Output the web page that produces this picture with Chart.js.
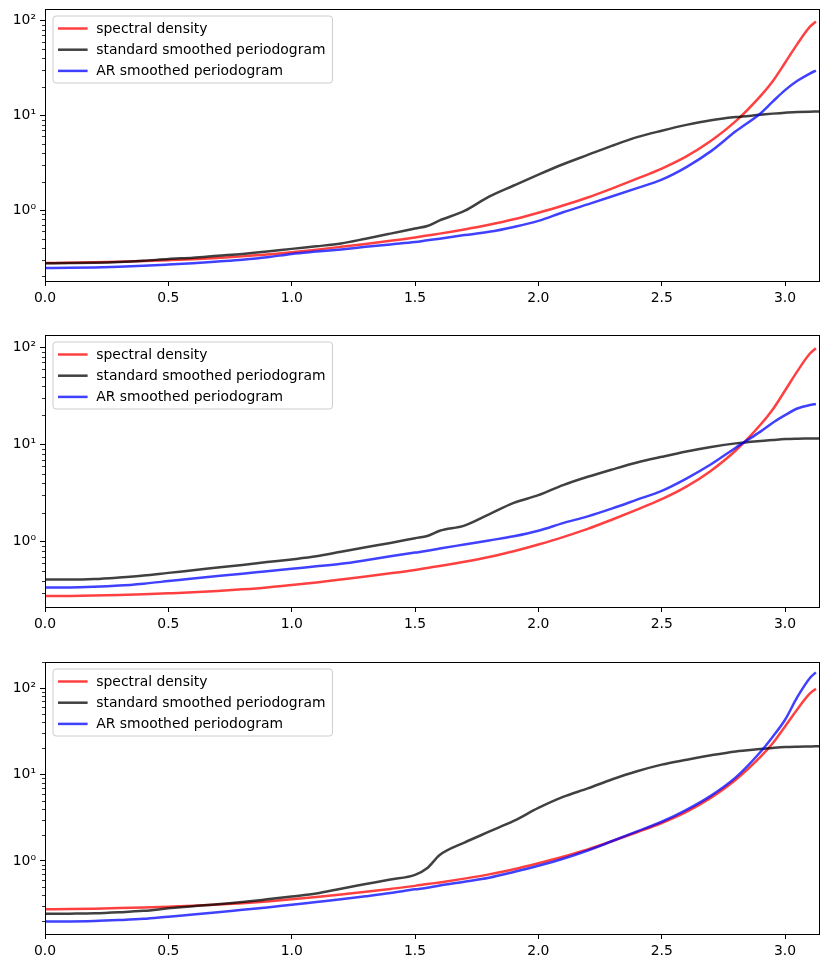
<!DOCTYPE html>
<html><head><meta charset="utf-8">
<script src="https://cdn.jsdelivr.net/npm/chart.js@4"></script>
<style>
html,body{margin:0;padding:0;background:#fff;}
body{width:830px;height:967px;position:relative;overflow:hidden;}
canvas{position:absolute;left:0;}
</style></head><body>
<canvas id="c1" width="830" height="311" style="top:0px;width:830px;height:311px"></canvas>
<canvas id="c2" width="830" height="311" style="top:326px;width:830px;height:311px"></canvas>
<canvas id="c3" width="830" height="311" style="top:653px;width:830px;height:311px"></canvas>
<script>
// ---- data ----
const freq = [0,0.1,0.2,0.3,0.4,0.5,0.6,0.7,0.8,0.9,1.0,1.1,1.2,1.3,1.4,1.5,1.55,1.6,1.7,1.8,1.9,2.0,2.1,2.2,2.3,2.4,2.5,2.6,2.7,2.8,2.9,2.95,3.0,3.05,3.1,3.125,3.1416];

const spectral = [0.277,0.278,0.281,0.285,0.29,0.296,0.303,0.313,0.325,0.34,0.36,0.383,0.41,0.44,0.475,0.515,0.54,0.565,0.625,0.70,0.80,0.94,1.12,1.36,1.7,2.15,2.75,3.7,5.4,8.7,16,23,36,57,86,98,null];

const standard1 = [0.275,0.276,0.278,0.283,0.292,0.305,0.315,0.33,0.345,0.365,0.39,0.415,0.445,0.50,0.565,0.64,0.68,0.78,0.98,1.39,1.82,2.37,3.05,3.83,4.8,5.9,6.9,7.95,8.9,9.6,10.15,10.45,10.7,10.85,10.95,10.98,11.0];
const ar1 = [0.245,0.246,0.248,0.252,0.258,0.266,0.275,0.287,0.30,0.318,0.345,0.365,0.385,0.41,0.435,0.46,0.48,0.50,0.545,0.59,0.665,0.77,0.95,1.15,1.4,1.71,2.1,2.85,4.2,6.8,10.5,14,18.5,23.2,27.7,29.8,null];

const standard2 = [0.41,0.41,0.415,0.43,0.45,0.48,0.51,0.545,0.58,0.62,0.66,0.71,0.79,0.88,0.975,1.09,1.15,1.3,1.47,1.92,2.52,3.02,3.84,4.67,5.56,6.55,7.49,8.5,9.46,10.3,10.9,11.15,11.4,11.5,11.55,11.58,11.6];
const ar2 = [0.34,0.34,0.345,0.355,0.372,0.395,0.42,0.445,0.47,0.50,0.53,0.56,0.595,0.647,0.71,0.776,0.81,0.853,0.94,1.035,1.14,1.3,1.56,1.83,2.21,2.72,3.35,4.48,6.28,9.3,13.6,16.8,20.1,23.5,25.5,26.2,null];

const standard3 = [0.245,0.246,0.248,0.255,0.265,0.283,0.30,0.315,0.335,0.36,0.388,0.42,0.478,0.54,0.61,0.69,0.83,1.17,1.63,2.18,2.9,4.1,5.5,6.9,8.8,10.9,13,14.8,16.7,18.5,19.7,20.3,20.8,21.0,21.1,21.15,21.2];
const ar3 = [0.20,0.20,0.202,0.207,0.214,0.227,0.24,0.255,0.272,0.29,0.312,0.335,0.36,0.39,0.425,0.47,0.49,0.52,0.575,0.64,0.745,0.88,1.06,1.32,1.7,2.2,2.84,3.9,5.7,9.25,18.2,27.4,43,79,130,152,null];

const seriesLabels = ['spectral density','standard smoothed periodogram','AR smoothed periodogram'];
const xTicks = [0,0.5,1.0,1.5,2.0,2.5,3.0];
const yTicks = [1,10,100];
const yTickLabels = ['10\u2070','10\u00b9','10\u00b2'];
const yLimits = [[0.1786,133],[0.214,134],[0.143,200]];

// ---- styles ----
const colors = ['rgba(255,0,0,0.75)','rgba(0,0,0,0.75)','rgba(0,0,255,0.75)'];
const FONT = 'DejaVu Sans';
const FS = 13.9;
Chart.defaults.font.family = FONT;
Chart.defaults.font.size = FS;
Chart.defaults.color = '#000';

const framePlugin = {
  id: 'frame',
  afterDraw(chart) {
    const ctx = chart.ctx, a = chart.chartArea, y = chart.scales.y;
    ctx.save();
    // minor log ticks
    ctx.strokeStyle = '#000';
    ctx.lineWidth = 0.8;
    ctx.beginPath();
    for (const d of [0.01, 0.1, 1, 10, 100]) {
      for (let m = 2; m <= 9; m++) {
        const v = m * d;
        if (v < y.min || v > y.max) continue;
        const py = Math.round(y.getPixelForValue(v)) + 0.5;
        ctx.moveTo(a.left - 3, py);
        ctx.lineTo(a.left, py);
      }
    }
    ctx.stroke();
    // frame
    ctx.lineWidth = 1;
    ctx.strokeRect(Math.round(a.left) + 0.5, Math.round(a.top) + 0.5,
                   Math.round(a.right - a.left) - 1, Math.round(a.bottom - a.top));
    // legend
    ctx.font = FS + 'px "' + FONT + '"';
    const tw = Math.max(...seriesLabels.map(t => ctx.measureText(t).width));
    const lx = a.left + 8, ly = a.top + 7;
    const w = 43.3 + tw + 7, h = 67;
    ctx.beginPath();
    const r = 3;
    ctx.moveTo(lx + r, ly);
    ctx.lineTo(lx + w - r, ly); ctx.arcTo(lx + w, ly, lx + w, ly + r, r);
    ctx.lineTo(lx + w, ly + h - r); ctx.arcTo(lx + w, ly + h, lx + w - r, ly + h, r);
    ctx.lineTo(lx + r, ly + h); ctx.arcTo(lx, ly + h, lx, ly + h - r, r);
    ctx.lineTo(lx, ly + r); ctx.arcTo(lx, ly, lx + r, ly, r);
    ctx.closePath();
    ctx.fillStyle = 'rgba(255,255,255,0.8)';
    ctx.fill();
    ctx.strokeStyle = '#cccccc';
    ctx.lineWidth = 1;
    ctx.stroke();
    ctx.textBaseline = 'middle';
    ctx.textAlign = 'left';
    seriesLabels.forEach((t, i) => {
      const yy = ly + 12.5 + i * 21.2;
      ctx.strokeStyle = colors[i];
      ctx.lineWidth = 2.5;
      ctx.beginPath();
      ctx.moveTo(lx + 5, yy); ctx.lineTo(lx + 34.6, yy);
      ctx.stroke();
      ctx.fillStyle = '#000';
      ctx.fillText(t, lx + 43.3, yy + 0.5);
    });
    ctx.restore();
  }
};

function makeChart(id, series, lim) {
  const datasets = series.map((vals, i) => ({
    label: seriesLabels[i],
    data: freq.map((f, k) => ({x: f, y: vals[k]})),
    borderColor: colors[i],
    backgroundColor: colors[i],
    borderWidth: 2.5,
    pointRadius: 0,
    fill: false,
    spanGaps: false,
    cubicInterpolationMode: 'monotone',
    order: 3 - i
  }));
  new Chart(document.getElementById(id), {
    type: 'line',
    data: {datasets},
    plugins: [framePlugin],
    options: {
      responsive: false,
      animation: false,
      devicePixelRatio: 1,
      layout: {padding: {top: 9, right: 10, left: 0, bottom: 0}},
      plugins: {legend: {display: false}, tooltip: {enabled: false}},
      scales: {
        x: {
          type: 'linear', min: 0, max: Math.PI,
          afterBuildTicks: s => { s.ticks = xTicks.map(v => ({value: v})); },
          afterFit: s => { s.height = 30; s.paddingLeft = 0; s.paddingRight = 0; },
          ticks: {callback: v => Number(v).toFixed(1), color: '#000', padding: 4,
                  maxRotation: 0, autoSkip: false, font: {size: FS, family: FONT}},
          grid: {display: true, drawOnChartArea: false, drawTicks: true, tickLength: 5,
                 color: '#000', lineWidth: 1},
          border: {display: false}
        },
        y: {
          type: 'logarithmic', min: lim[0], max: lim[1],
          afterBuildTicks: s => { s.ticks = yTicks.map(v => ({value: v})); },
          afterFit: s => { s.width = 45; s.paddingTop = 0; s.paddingBottom = 0; },
          ticks: {callback: v => { const k = yTicks.indexOf(Number(v)); return k >= 0 ? yTickLabels[k] : ''; },
                  color: '#000', padding: 4, autoSkip: false, font: {size: FS, family: FONT}},
          grid: {display: true, drawOnChartArea: false, drawTicks: true, tickLength: 5,
                 color: '#000', lineWidth: 1},
          border: {display: false}
        }
      }
    }
  });
}

makeChart('c1', [spectral, standard1, ar1], yLimits[0]);
makeChart('c2', [spectral, standard2, ar2], yLimits[1]);
makeChart('c3', [spectral, standard3, ar3], yLimits[2]);
</script>
</body></html>
